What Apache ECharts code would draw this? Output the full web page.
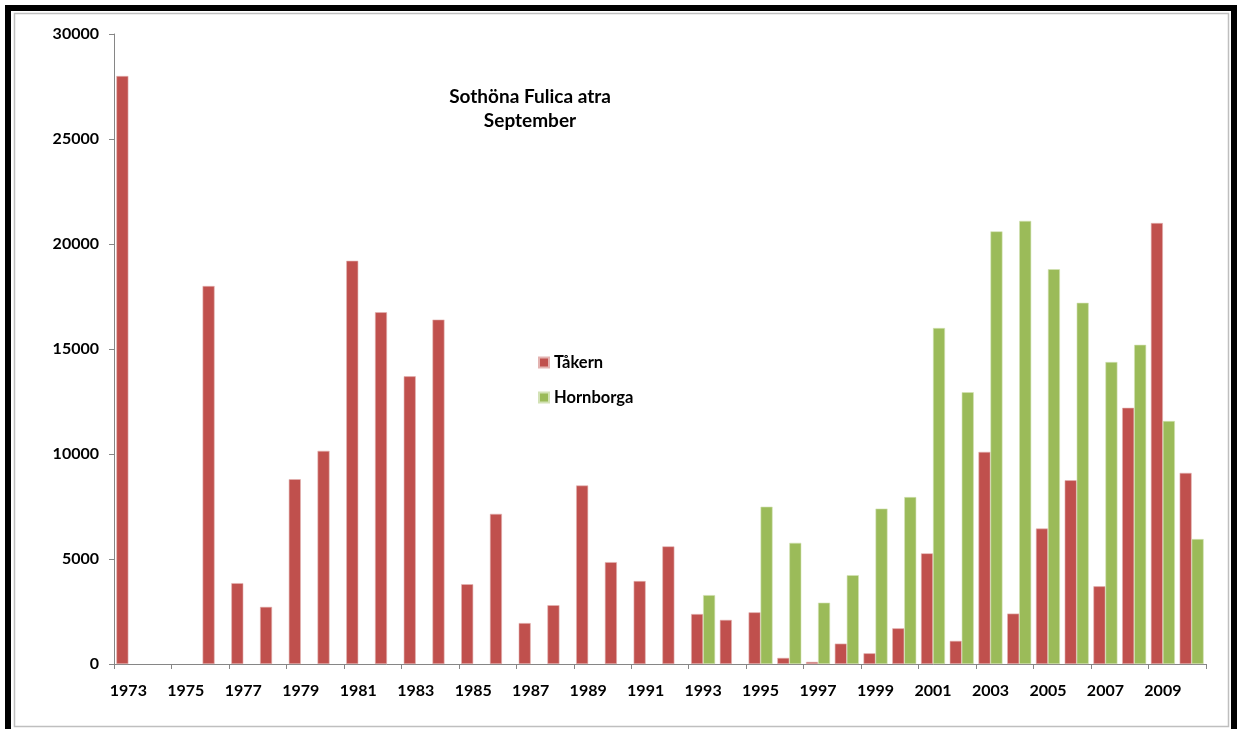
<!DOCTYPE html>
<html>
<head>
<meta charset="utf-8">
<script src="https://cdn.jsdelivr.net/npm/echarts@6/dist/echarts.min.js"></script>
<style>
  html, body { margin: 0; padding: 0; background: #fff; }
  #chart { width: 1237px; height: 729px; }
</style>
</head>
<body>
<div id="chart"></div>
<script>
// years on the x axis
const years = [];
for (let y = 1973; y <= 2010; y++) years.push(String(y));

// Tåkern counts (null = no count)
const takern = [
  28000, null, null, 18000, 3850, 2720, 8800, 10150, 19200, 16750,
  13700, 16400, 3800, 7150, 1950, 2800, 8500, 4850, 3950, 5600,
  2380, 2100, 2460, 290, 100, 970, 510, 1700, 5270, 1100,
  10100, 2400, 6450, 8750, 3700, 12200, 21000, 9100
];

// Hornborga counts (only from 1993)
const hornborga = [
  null, null, null, null, null, null, null, null, null, null,
  null, null, null, null, null, null, null, null, null, null,
  3280, null, 7490, 5770, 2920, 4230, 7400, 7950, 16000, 12940,
  20600, 21100, 18800, 17200, 14380, 15200, 11570, 5950
];

const font = 'Lato, "Liberation Sans", sans-serif';

const chart = echarts.init(document.getElementById('chart'));

chart.setOption({
  animation: false,
  textStyle: { fontFamily: font },
  graphic: [
    // outer black frame
    { type: 'rect', shape: { x: 8, y: 8, width: 1226, height: 730 },
      style: { fill: null, stroke: '#000', lineWidth: 6 }, z: 100 },
    // inner grey frame
    { type: 'rect', shape: { x: 14.5, y: 13.5, width: 1214, height: 713 },
      style: { fill: null, stroke: '#bfbfbf', lineWidth: 1.5 }, z: 100 }
  ],
  title: {
    text: 'Sothöna Fulica atra\nSeptember',
    left: 525,
    top: 80,
    textAlign: 'center',
    textStyle: { fontFamily: font, fontWeight: 'bold', fontSize: 19, color: '#000', lineHeight: 24 }
  },
  legend: {
    orient: 'vertical',
    left: 533,
    top: 349,
    itemWidth: 10,
    itemHeight: 10,
    itemGap: 18,
    icon: 'rect',
    textStyle: { fontFamily: font, fontWeight: 'bold', fontSize: 16.5, color: '#000' },
    data: ['Tåkern', 'Hornborga']
  },
  grid: { left: 114, right: 31, top: 34, bottom: 65 },
  xAxis: {
    type: 'category',
    data: years,
    axisLine: { lineStyle: { color: '#868686', width: 1 } },
    axisTick: { show: true, alignWithLabel: false, length: 5, lineStyle: { color: '#868686' } },
    axisLabel: {
      interval: 1,
      color: '#000',
      fontFamily: font,
      fontWeight: 'bold',
      fontSize: 16,
      margin: 19
    }
  },
  yAxis: {
    type: 'value',
    min: 0,
    max: 30000,
    interval: 5000,
    splitLine: { show: false },
    axisLine: { show: true, lineStyle: { color: '#868686', width: 1 } },
    axisTick: { show: true, length: 5, lineStyle: { color: '#868686' } },
    axisLabel: {
      color: '#000',
      fontFamily: font,
      fontWeight: 'bold',
      fontSize: 16,
      margin: 15,
      formatter: v => String(v)
    }
  },
  series: [
    {
      name: 'Tåkern',
      type: 'bar',
      data: takern,
      barWidth: 12,
      barGap: '0%',
      itemStyle: { color: '#C0504D', borderColor: '#e3b3b1', borderWidth: 0.6 }
    },
    {
      name: 'Hornborga',
      type: 'bar',
      data: hornborga,
      barWidth: 12,
      barGap: '0%',
      itemStyle: { color: '#9BBB59', borderColor: '#d3e2b6', borderWidth: 0.6 }
    }
  ]
});
</script>
</body>
</html>
